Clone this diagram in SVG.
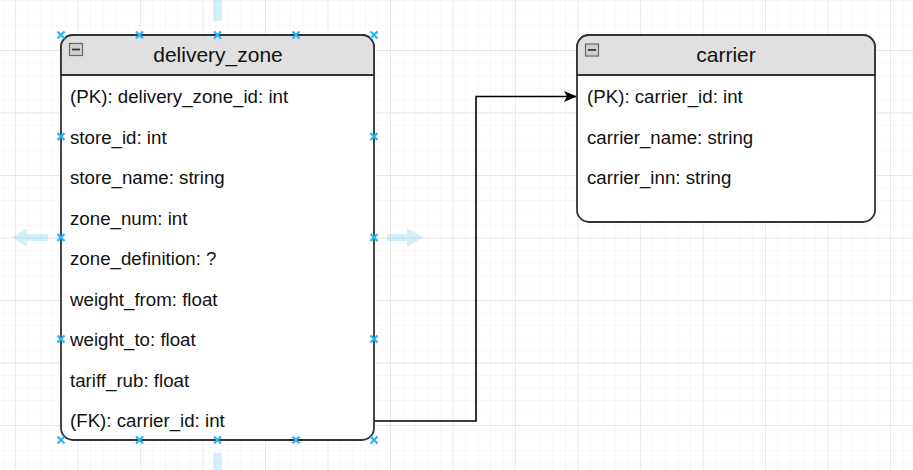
<svg xmlns="http://www.w3.org/2000/svg" width="913" height="470" viewBox="0 0 913 470">
<defs>
<style>
.box{fill:#ffffff;stroke:#333333;stroke-width:1.8}
.hdr{fill:#e0e0e0;stroke:#333333;stroke-width:1.8}
.title{font-family:"Liberation Sans",Arial,sans-serif;font-size:21px;fill:#111111;text-anchor:middle}
.row{font-family:"Liberation Sans",Arial,sans-serif;font-size:18.7px;fill:#111111}
.icon{fill:#cfcfcf;stroke:#666666;stroke-width:1.2}
.dash{stroke:#333333;stroke-width:1.8}
.edge{fill:none;stroke:#000000;stroke-width:1.6}
.pt{stroke:#29b6f2;stroke-width:2.2;fill:none}
.hover{fill:#29b6f2;fill-opacity:0.2}
</style>
<pattern id="minor" patternUnits="userSpaceOnUse" x="2.5" y="0" width="12.5" height="12.5">
<path d="M0,0 V12.5 M0,0 H12.5" stroke="#f1f1f1" stroke-width="1" fill="none"/>
</pattern>
<pattern id="major" patternUnits="userSpaceOnUse" x="15" y="50" width="62.5" height="62.5">
<path d="M0,0 V62.5 M0,0 H62.5" stroke="#e2e2e2" stroke-width="1.3" fill="none"/>
</pattern>
<marker id="arrow" viewBox="0 0 13 11" refX="13" refY="5.5" markerWidth="13" markerHeight="11" markerUnits="userSpaceOnUse" orient="auto">
<path d="M0,0 L13,5.5 L0,11 L3,5.5 Z" fill="#000000"/>
</marker>
<path id="x" d="M-3.5,-3.5 L3.5,3.5 M-3.5,3.5 L3.5,-3.5"/>
</defs>
<rect width="913" height="470" fill="#ffffff"/>
<rect width="913" height="470" fill="url(#minor)"/>
<rect width="913" height="470" fill="url(#major)"/>

<g id="hover-arrows">
<rect class="hover" x="213" y="0" width="9" height="21"/>
<rect class="hover" x="213" y="453" width="9" height="17"/>
<path class="hover" d="M48,234 H27 V228 L12,237.5 L27,247 V241 H48 Z"/>
<path class="hover" d="M387,234 H407 V228 L423,237.5 L407,247 V241 H387 Z"/>
</g>

<g id="connectors">
<path class="edge" d="M374,421 H476 V96.5 H577" marker-end="url(#arrow)"/>
</g>

<g id="delivery_zone">
<rect class="box" x="61" y="35" width="313" height="405" rx="12" ry="12"/>
<path class="hdr" d="M61,75 V47 A12,12 0 0 1 73,35 H362 A12,12 0 0 1 374,47 V75 Z"/>
<rect class="icon" x="69.5" y="43.5" width="13" height="12"/>
<line class="dash" x1="72" y1="49.5" x2="80" y2="49.5"/>
<text class="title" x="218" y="62">delivery_zone</text>
<text class="row" x="70" y="103">(PK): delivery_zone_id: int</text>
<text class="row" x="70" y="143.5">store_id: int</text>
<text class="row" x="70" y="184">store_name: string</text>
<text class="row" x="70" y="224.5">zone_num: int</text>
<text class="row" x="70" y="265">zone_definition: ?</text>
<text class="row" x="70" y="305.5">weight_from: float</text>
<text class="row" x="70" y="346">weight_to: float</text>
<text class="row" x="70" y="386.5">tariff_rub: float</text>
<text class="row" x="70" y="427">(FK): carrier_id: int</text>
</g>

<g id="carrier">
<rect class="box" x="577" y="35" width="298" height="187" rx="12" ry="12"/>
<path class="hdr" d="M577,75 V47 A12,12 0 0 1 589,35 H863 A12,12 0 0 1 875,47 V75 Z"/>
<rect class="icon" x="585.5" y="44" width="13" height="12"/>
<line class="dash" x1="588" y1="50" x2="596" y2="50"/>
<text class="title" x="726" y="62">carrier</text>
<text class="row" x="587" y="103">(PK): carrier_id: int</text>
<text class="row" x="587" y="143.5">carrier_name: string</text>
<text class="row" x="587" y="184">carrier_inn: string</text>
</g>

<g id="connection-points" class="pt">
<use href="#x" x="61" y="35"/>
<use href="#x" x="139.5" y="35"/>
<use href="#x" x="217.5" y="35"/>
<use href="#x" x="296" y="35"/>
<use href="#x" x="374" y="35"/>
<use href="#x" x="61" y="440"/>
<use href="#x" x="139.5" y="440"/>
<use href="#x" x="217.5" y="440"/>
<use href="#x" x="296" y="440"/>
<use href="#x" x="374" y="440"/>
<use href="#x" x="61" y="136.5"/>
<use href="#x" x="61" y="237.5"/>
<use href="#x" x="61" y="339"/>
<use href="#x" x="374" y="136.5"/>
<use href="#x" x="374" y="237.5"/>
<use href="#x" x="374" y="339"/>
</g>
</svg>
